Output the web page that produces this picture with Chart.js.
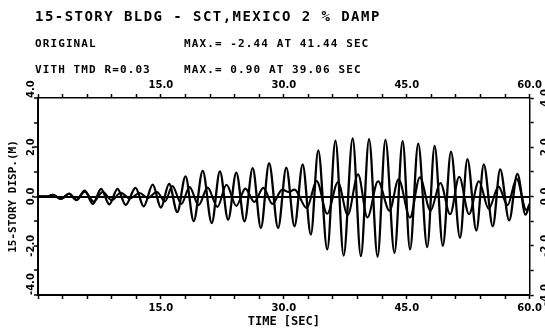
<!DOCTYPE html>
<html>
<head>
<meta charset="utf-8">
<script src="https://cdn.jsdelivr.net/npm/chart.js@4/dist/chart.umd.min.js"></script>
<style>
  html, body { margin: 0; padding: 0; background: #fff; }
  #wrap { width: 545px; height: 329px; }
</style>
</head>
<body>
<div id="wrap"><canvas id="c" width="545" height="329"></canvas></div>
<script>
// ---- Data (extrema of each trace) ----
const origTime = [0, 1.2, 1.8, 2.8, 3.8, 4.7, 5.7, 6.7, 7.7, 8.7, 9.7, 10.7, 11.9, 12.9, 14.0, 15.0,
  16.0, 17.0, 18.0, 19.0, 20.1, 21.2, 22.2, 23.2, 24.2, 25.2, 26.2, 27.2, 28.2, 29.3, 30.3, 31.3,
  32.3, 33.3, 34.2, 35.3, 36.3, 37.3, 38.4, 39.4, 40.4, 41.44, 42.4, 43.5, 44.5, 45.4, 46.4, 47.5,
  48.4, 49.4, 50.4, 51.5, 52.4, 53.5, 54.4, 55.5, 56.4, 57.5, 58.5, 59.5, 60];
const origDisp = [0, 0, 0.07, -0.1, 0.12, -0.15, 0.24, -0.3, 0.31, -0.32, 0.31, -0.34, 0.35, -0.4, 0.48, -0.45,
  0.51, -0.63, 0.82, -1.0, 1.04, -1.08, 1.02, -0.94, 0.97, -1.01, 1.15, -1.28, 1.35, -1.28, 1.17, -1.21,
  1.30, -1.55, 1.87, -2.15, 2.27, -2.40, 2.36, -2.42, 2.33, -2.44, 2.30, -2.29, 2.25, -2.15, 2.15, -2.05,
  2.05, -2.0, 1.82, -1.68, 1.52, -1.38, 1.30, -1.21, 1.10, -0.97, 0.92, -0.74, -0.3];

const tmdTime = [0, 1.2, 1.8, 2.8, 3.8, 4.7, 5.7, 6.8, 7.9, 9.0, 10.1, 11.2, 12.4, 13.4, 14.5, 15.5,
  16.4, 17.5, 18.5, 19.6, 20.7, 21.9, 23.0, 24.2, 25.3, 26.4, 27.5, 28.6, 29.8, 30.6, 31.3, 32.8,
  34.0, 35.3, 36.6, 37.8, 39.06, 40.2, 41.5, 42.9, 44.0, 45.4, 46.6, 47.9, 49.1, 50.3, 51.4, 52.6,
  53.8, 55.0, 56.2, 57.3, 58.4, 59.6, 60];
const tmdDisp = [0, 0, 0.07, -0.1, 0.11, -0.13, 0.2, -0.2, 0.18, -0.15, 0.15, -0.08, 0.14, -0.06, 0.18, -0.2,
  0.42, -0.3, 0.38, -0.35, 0.36, -0.42, 0.48, -0.38, 0.32, -0.22, 0.35, -0.3, 0.28, 0.18, 0.28, -0.47,
  0.63, -0.7, 0.58, -0.75, 0.90, -0.85, 0.62, -0.58, 0.7, -0.85, 0.78, -0.58, 0.55, -0.72, 0.8, -0.72,
  0.62, -0.5, 0.4, -0.35, 0.72, -0.55, -0.3];

const xLabelValues = [15, 30, 45, 60];
const yLabelValues = [-4, -2, 0, 2, 4];

const titleText = '15-STORY BLDG - SCT,MEXICO 2 % DAMP';
const line2Left = 'ORIGINAL';
const line2Right = 'MAX.= -2.44 AT 41.44 SEC';
const line3Left = 'VITH TMD R=0.03';
const line3Right = 'MAX.= 0.90 AT 39.06 SEC';
const xTitle = 'TIME [SEC]';
const yTitle = '15-STORY DISP.(M)';

// ---- build datasets ----
const toPts = (t, v) => t.map((x, i) => ({x, y: v[i]}));

const headerPlugin = {
  id: 'header',
  afterDraw(chart) {
    const ctx = chart.ctx;
    ctx.save();
    ctx.fillStyle = '#000';
    ctx.textBaseline = 'middle';
    ctx.textAlign = 'left';
    ctx.font = 'bold 14px "DejaVu Sans Mono"';
    ctx.letterSpacing = '1.45px';
    ctx.fillText(titleText, 35, 17);
    ctx.font = 'bold 11px "DejaVu Sans Mono"';
    ctx.letterSpacing = '1.1px';
    ctx.fillText(line2Left, 35, 44);
    ctx.fillText(line2Right, 184, 44);
    ctx.fillText(line3Left, 35, 70);
    ctx.fillText(line3Right, 184, 70);
    ctx.restore();

    // rotated y tick labels (left and right axes)
    const yS = chart.scales.y;
    ctx.save();
    ctx.fillStyle = '#000';
    ctx.font = 'bold 10px "DejaVu Sans"';
    ctx.textBaseline = 'middle';
    for (const v of yLabelValues) {
      const py = yS.getPixelForValue(v);
      const txt = v.toFixed(1);
      ctx.save();
      ctx.translate(31, py);
      ctx.rotate(-Math.PI / 2);
      ctx.textAlign = (Math.abs(v) === 4) ? 'left' : 'center';
      ctx.fillText(txt, 0, 0);
      ctx.restore();
      ctx.save();
      ctx.translate(545, py);
      ctx.rotate(-Math.PI / 2);
      ctx.textAlign = 'center';
      ctx.fillText(txt, 0, 0);
      ctx.restore();
    }
    ctx.restore();
  }
};

const xTicks = {
  stepSize: 3,
  autoSkip: false,
  maxRotation: 0,
  minRotation: 0,
  maxTicksLimit: 100,
  padding: 3,
  color: '#000',
  font: {family: 'DejaVu Sans', weight: 'bold', size: 10},
  callback: (v) => xLabelValues.includes(v) ? v.toFixed(1) : ''
};

new Chart(document.getElementById('c'), {
  type: 'line',
  data: {
    datasets: [
      {
        label: 'ORIGINAL',
        data: toPts(origTime, origDisp),
        borderColor: '#000',
        borderWidth: 2.3,
        pointRadius: 0,
        cubicInterpolationMode: 'monotone',
        fill: false
      },
      {
        label: 'VITH TMD R=0.03',
        data: toPts(tmdTime, tmdDisp),
        borderColor: '#000',
        borderWidth: 2.1,
        pointRadius: 0,
        cubicInterpolationMode: 'monotone',
        fill: false
      }
    ]
  },
  options: {
    responsive: false,
    animation: false,
    devicePixelRatio: 1,
    layout: {padding: 0},
    plugins: {legend: {display: false}, tooltip: {enabled: false}, title: {display: false}},
    scales: {
      x: {
        type: 'linear', position: 'bottom', min: 0, max: 60,
        ticks: xTicks,
        grid: {drawOnChartArea: false, drawTicks: true, tickLength: 4, tickColor: '#000', tickWidth: 1.5},
        border: {display: true, color: '#000', width: 2},
        title: {display: true, text: xTitle, color: '#000', padding: {top: 0, bottom: 0},
          font: {family: 'DejaVu Sans Mono', weight: 'bold', size: 12}},
        afterFit: (s) => { s.height = 34; }
      },
      xTop: {
        type: 'linear', position: 'top', min: 0, max: 60,
        ticks: xTicks,
        grid: {drawOnChartArea: false, drawTicks: true, tickLength: 4, tickColor: '#000', tickWidth: 1.5},
        border: {display: true, color: '#000', width: 1.5},
        afterFit: (s) => { s.height = 98; }
      },
      y: {
        type: 'linear', position: 'left', min: -4, max: 4,
        ticks: {stepSize: 1, display: false},
        grid: {
          drawOnChartArea: true, drawTicks: true, tickLength: 4, tickColor: '#000', tickWidth: 1.5,
          color: (c) => (c.tick && c.tick.value === 0) ? '#000' : 'rgba(0,0,0,0)',
          lineWidth: (c) => (c.tick && c.tick.value === 0) ? 2 : 0
        },
        border: {display: true, color: '#000', width: 2},
        title: {display: true, text: yTitle, color: '#000', padding: {top: 7, bottom: 0},
          font: {family: 'DejaVu Sans Mono', weight: 'bold', size: 11}},
        afterFit: (s) => { s.width = 38; }
      },
      yRight: {
        type: 'linear', position: 'right', min: -4, max: 4,
        ticks: {stepSize: 1, display: false},
        grid: {drawOnChartArea: false, drawTicks: true, tickLength: 4, tickColor: '#000', tickWidth: 1.5},
        border: {display: true, color: '#000', width: 1.5},
        afterFit: (s) => { s.width = 13; }
      }
    }
  },
  plugins: [headerPlugin]
});
</script>
</body>
</html>
